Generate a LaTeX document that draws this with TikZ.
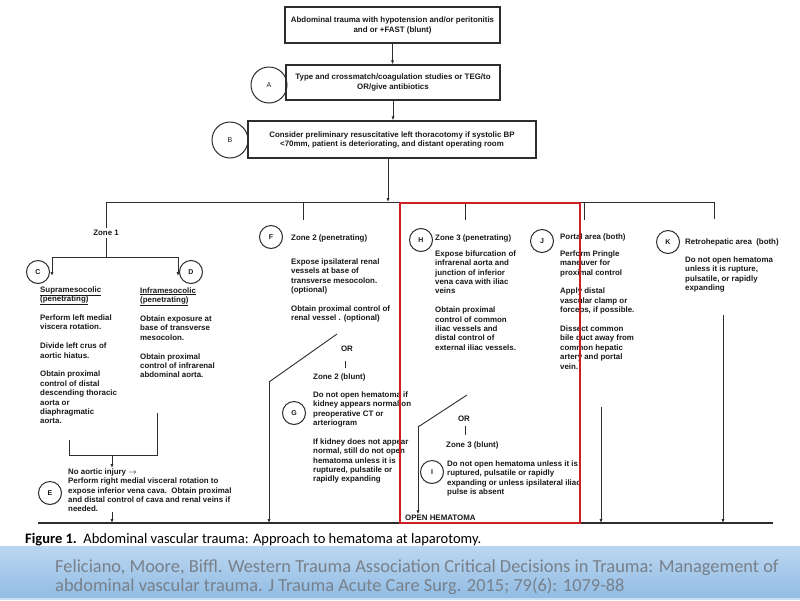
\documentclass[tikz,border=0pt]{standalone}
\usepackage{fontspec}
\setmainfont{Liberation Sans}
\newfontfamily\capfont{Carlito}
\usetikzlibrary{arrows.meta}
\definecolor{ln}{RGB}{45,45,45}
\definecolor{redbox}{RGB}{205,30,35}
\definecolor{bantop}{RGB}{188,214,240}
\definecolor{banbot}{RGB}{145,188,228}
\definecolor{banstrip}{RGB}{200,222,242}
\definecolor{bantext}{RGB}{120,128,138}
\definecolor{tx}{RGB}{25,25,25}
\newcommand{\fl}{\rule{0pt}{6pt}}
\begin{document}
\begin{tikzpicture}[x=1pt,y=-1pt,
  txt/.style={font=\fontsize{7.9}{9.4}\selectfont\bfseries, inner sep=0pt, align=left, anchor=base west, text=tx},
  mtxt/.style={txt, anchor=north west},
  box/.style={draw=ln, line width=1.3pt, align=center, inner sep=0pt, font=\fontsize{7.9}{10}\selectfont\bfseries, text=tx},
  circ/.style={draw=ln, circle, line width=1pt, minimum size=23pt, inner sep=0pt, font=\fontsize{7}{8}\selectfont\bfseries, text=tx},
  conn/.style={draw=ln, line width=0.9pt},
  arr/.style={conn, -{Latex[length=4pt,width=3.2pt]}},
]
\useasboundingbox (0,0) rectangle (800,600);
\fill[white] (0,0) rectangle (800,600);

% top boxes
\node[box, minimum width=215pt, minimum height=36pt] (b1) at (392.5,25) {Abdominal trauma with hypotension and/or peritonitis\\and or +FAST (blunt)};
\node[box, minimum width=214pt, minimum height=35pt] (b2) at (393,82.5) {Type and crossmatch/coagulation studies or TEG/to\\OR/give antibiotics};
\node[box, minimum width=288pt, minimum height=37pt, font=\fontsize{7.9}{9}\selectfont\bfseries] (b3) at (392,139.5) {Consider preliminary resuscitative left thoracotomy if systolic BP\\<70mm, patient is deteriorating, and distant operating room};
\node[circ, minimum size=36pt, font=\fontsize{7}{8}\selectfont] (cA) at (269,85) {A};
\node[circ, minimum size=36pt, font=\fontsize{7}{8}\selectfont] (cB) at (230,140) {B};

\draw[arr] (b1.south) -- (b1.south |- b2.north);
\draw[arr] (b2.south) -- (b2.south |- b3.north);
\coordinate (bar) at (388,202);
\draw[arr] (b3.south -| bar) -- (bar);

% main bar
\coordinate (bl) at (106,202);
\coordinate (br) at (714,202);
\draw[conn] (bl) -- (br);
\coordinate (d2) at (303,202); \coordinate (d2e) at (303,220);
\coordinate (d3) at (465,202); \coordinate (d3e) at (465,220);
\coordinate (d4) at (584,202); \coordinate (d4e) at (584,220);
\coordinate (d5e) at (714,219);
\draw[conn] (d2) -- (d2e);
\draw[conn] (d3) -- (d3e);
\draw[conn] (d4) -- (d4e);
\draw[conn] (br) -- (d5e);

% Zone 1
\node[txt, anchor=center, inner sep=2.5pt] (z1) at (106,233) {Zone 1};
\draw[conn] (bl) -- (z1.north);
\coordinate (z1s) at (106,257);
\draw[conn] (z1.south) -- (z1s);
\coordinate (ca) at (52,276);
\coordinate (da) at (178,276);
\draw[arr] (z1s) -| (ca);
\draw[arr] (z1s) -| (da);
\node[circ] (cC) at (38,272) {C};
\node[circ] (cD) at (191,272) {D};
\node[mtxt] (tC) at (40,286) {\fl\underline{Supramesocolic}\\\underline{(penetrating)}\\[9.4pt]Perform left medial\\viscera rotation.\\[9.4pt]Divide left crus of\\aortic hiatus.\\[9.4pt]Obtain proximal\\control of distal\\descending thoracic\\aorta or\\diaphragmatic\\aorta.};
\node[mtxt] (tD) at (140,287) {\fl\underline{Inframesocolic}\\\underline{(penetrating)}\\[9.4pt]Obtain exposure at\\base of transverse\\mesocolon.\\[9.4pt]Obtain proximal\\control of infrarenal\\abdominal aorta.};
\coordinate (m1) at (69,440);
\coordinate (m2) at (157,413);
\coordinate (mj) at (112,455);
\draw[conn] (m1) |- (m2 |- mj) -- (m2);
\node[mtxt] (tE) at (68,468) {\fl No aortic injury $\rightarrow$\\Perform right medial visceral rotation to\\expose inferior vena cava.\ \ Obtain proximal\\and distal control of cava and renal veins if\\needed.};
\node[circ] (cE) at (50,493) {E};
\draw[arr] (mj) -- (mj |- tE.north);
\coordinate (e1) at (112,523);
\draw[arr] (e1 |- tE.south) -- (e1);

% Zone 2
\node[circ] (cF) at (271,237) {F};
\node[txt] (zF) at (291,240) {Zone 2 (penetrating)};
\node[mtxt] (tF) at (291,258) {\fl Expose ipsilateral renal\\vessels at base of\\transverse mesocolon.\\(optional)\\[9.4pt]Obtain proximal control of\\renal vessel . (optional)};
\coordinate (g1) at (337,334);
\coordinate (g2) at (269,382);
\coordinate (g3) at (269,523);
\draw[conn] (g1) -- (g2);
\draw[arr] (g2) -- (g3);
\node[txt, anchor=center] (orG) at (347,349) {OR};
\draw[conn] (345,361) -- (345,368);
\node[txt] (zG) at (313,379) {Zone 2 (blunt)};
\node[mtxt] (tG) at (313,391) {\fl Do not open hematoma if\\kidney appears normal on\\preoperative CT or\\arteriogram\\[9.4pt]If kidney does not appear\\normal, still do not open\\hematoma unless it is\\ruptured, pulsatile or\\rapidly expanding};
\node[circ] (cG) at (294,413) {G};

% Zone 3
\node[circ] (cH) at (421,240) {H};
\node[txt] (zH) at (435,240) {Zone 3 (penetrating)};
\node[mtxt] (tH) at (435,250) {\fl Expose bifurcation of\\infrarenal aorta and\\junction of inferior\\vena cava with iliac\\veins\\[9.4pt]Obtain proximal\\control of common\\iliac vessels and\\distal control of\\external iliac vessels.};
\coordinate (h1) at (467,395);
\coordinate (h2) at (418,427);
\draw[conn] (h1) -- (h2);
\node[txt, anchor=center] (orH) at (464,419) {OR};
\draw[conn] (465,426) -- (465,435);
\node[txt] (zI) at (446,447) {Zone 3 (blunt)};
\node[mtxt] (tI) at (447,460) {\fl Do not open hematoma unless it is\\ruptured, pulsatile or rapidly\\expanding or unless ipsilateral iliac\\pulse is absent};
\node[circ] (cI) at (432,472) {I};
\node[txt] (open) at (405,520) {OPEN HEMATOMA};
\draw[arr] (h2) -- (h2 |- open.north);

% Portal
\node[circ] (cJ) at (542,241) {J};
\node[txt] (zJ) at (560,239) {Portal area (both)};
\node[mtxt] (tJ) at (560,250) {\fl Perform Pringle\\maneuver for\\proximal control\\[9.4pt]Apply distal\\vascular clamp or\\forceps, if possible.\\[9.4pt]Dissect common\\bile duct away from\\common hepatic\\artery and portal\\vein.};
\coordinate (j1) at (601,407);
\coordinate (j2) at (601,523);
\draw[arr] (j1) -- (j2);

% Retrohepatic
\node[circ] (cK) at (668,242) {K};
\node[txt] (zK) at (685,244) {Retrohepatic area\ \ (both)};
\node[mtxt] (tK) at (685,256) {\fl Do not open hematoma\\unless it is rupture,\\pulsatile, or rapidly\\expanding};
\coordinate (k1) at (723,315);
\coordinate (k2) at (723,523);
\draw[arr] (k1) -- (k2);

% bottom line
\coordinate (bot1) at (38,523);
\coordinate (bot2) at (773,523);
\draw[draw=ln, line width=1.2pt] (bot1) -- (bot2);

% red frame
\draw[redbox, line width=2.4pt] (400,203) rectangle (580,523);

% caption
\node[anchor=base west, inner sep=0pt, font=\capfont\fontsize{14.5}{16}\selectfont, text=black] (cap) at (25,543) {\textbf{Figure 1.}\ \ Abdominal vascular trauma: Approach to hematoma at laparotomy.};

% banner
\shade[top color=bantop, bottom color=banbot] (0,546) rectangle (800,598);
\fill[banstrip] (0,598) rectangle (800,600);
\node[anchor=north west, inner sep=0pt, align=left, font=\capfont\fontsize{18.4}{19.5}\selectfont, text=bantext] (ref) at (55,558) {\rule{0pt}{14pt}Feliciano, Moore, Biffl. Western Trauma Association Critical Decisions in Trauma: Management of\\abdominal vascular trauma. J Trauma Acute Care Surg. 2015; 79(6): 1079-88};
\end{tikzpicture}
\end{document}
